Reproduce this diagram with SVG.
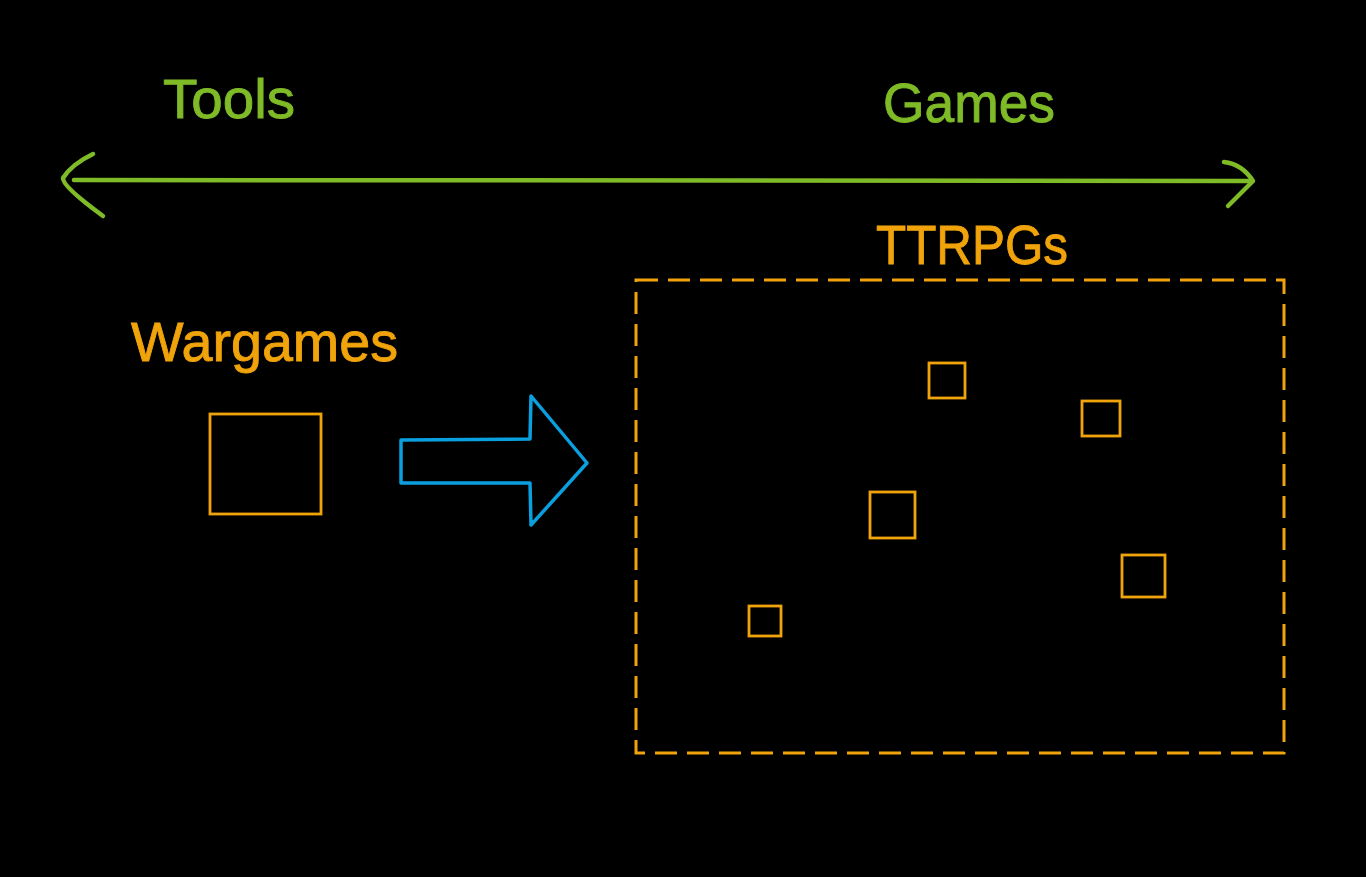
<svg xmlns="http://www.w3.org/2000/svg" width="1366" height="877" viewBox="0 0 1366 877">
<style>
.bg{fill:#000}
.lbl{font-family:"Liberation Sans","DejaVu Sans",sans-serif;font-size:56px;stroke-width:0.9}
.g{fill:#7fba27;stroke:#7fba27}
.o{fill:#f0a30a;stroke:#f0a30a}
.gl{fill:none;stroke:#7fba27;stroke-width:4.5;stroke-linecap:round;stroke-linejoin:round}
.box{fill:none;stroke:#f0a30a;stroke-width:2.8}
.dash{fill:none;stroke:#f0a30a;stroke-width:3;stroke-dasharray:22 10}
.blue{fill:none;stroke:#0aa0e0;stroke-width:3.5;stroke-linejoin:round}
</style>
<rect class="bg" x="0" y="0" width="1366" height="877"/>
<g id="tools-label"><text class="lbl g" x="163" y="118" textLength="132" lengthAdjust="spacingAndGlyphs">Tools</text></g>
<g id="games-label"><text class="lbl g" x="883" y="122" textLength="172" lengthAdjust="spacingAndGlyphs">Games</text></g>
<g id="connectors">
<path class="gl" d="M74,180 L1250,181"/>
<path class="gl" d="M93,154 Q72,164 63,178 Q62,186 103,216"/>
<path class="gl" d="M1224,162 Q1242,164 1253,181 L1228,206"/>
</g>
<g id="wargames">
<text class="lbl o" x="131" y="361" textLength="267" lengthAdjust="spacingAndGlyphs">Wargames</text>
<rect class="box" x="210" y="414" width="111" height="100"/>
</g>
<g id="transition-arrow">
<polygon class="blue" points="401,440 530,439 531,396 587,463 531,525 530,483 401,483"/>
</g>
<g id="ttrpgs">
<text class="lbl o" x="876" y="264" textLength="192" lengthAdjust="spacingAndGlyphs">TTRPGs</text>
<rect class="dash" x="636" y="280" width="648" height="473"/>
<rect class="box" x="929" y="363" width="36" height="35"/>
<rect class="box" x="1082" y="401" width="38" height="35"/>
<rect class="box" x="870" y="492" width="45" height="46"/>
<rect class="box" x="1122" y="555" width="43" height="42"/>
<rect class="box" x="749" y="606" width="32" height="30"/>
</g>
</svg>
